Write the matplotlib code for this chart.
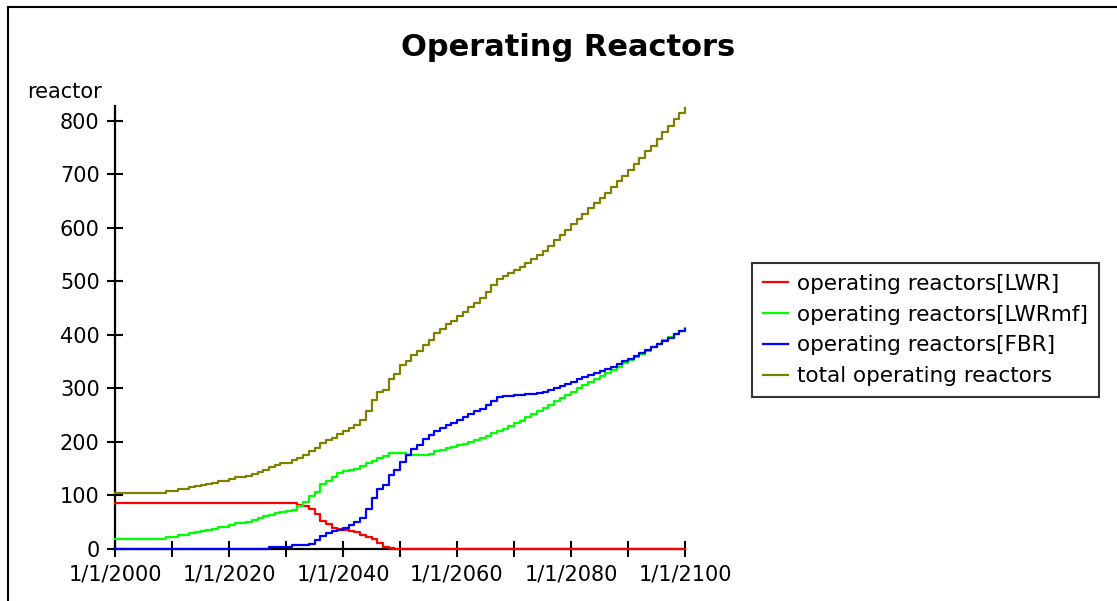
import matplotlib
matplotlib.use("Agg")
import matplotlib.pyplot as plt
from matplotlib.lines import Line2D
import numpy as np

years = list(range(2000, 2101))

lwr = ([86] * 32 +
       [83, 80, 75, 65, 52, 46, 40, 37, 36, 34, 31, 27, 22, 18, 11, 4, 1] +
       [0] * 52)

lwrmf = ([19] * 9 +
         [23, 23, 27, 27, 30, 32, 34, 36, 38, 42,   # 2009-2018
          42, 45, 49, 49, 51, 55, 58, 62, 64, 67,   # 2019-2028
          70, 71, 73, 80, 88, 99, 107, 121, 128, 135,  # 2029-2038
          142, 145, 148, 150, 156, 160, 165, 170, 174, 179,  # 2039-2048
          180, 180, 176, 176, 176, 176, 178, 183, 185, 188,  # 2049-2058
          191, 194, 197, 200, 203, 207, 211, 216, 220, 224,  # 2059-2068
          229, 235, 240, 246, 252, 258, 264, 270, 276, 282,  # 2069-2078
          288, 294, 300, 306, 312, 318, 323, 329, 335, 341,  # 2079-2088
          347, 353, 359, 365, 371, 377, 384, 390, 396, 402,  # 2089-2098
          408, 413])                                         # 2099-2100

fbr = ([0] * 27 +
       [4, 4, 4, 4, 7, 7, 7, 9, 17, 25,            # 2027-2036
        30, 33, 36, 39, 45, 50, 58, 75, 95, 112,   # 2037-2046
        120, 138, 148, 163, 175, 186, 194, 205, 213, 220,  # 2047-2056
        226, 232, 236, 242, 246, 252, 257, 262, 270, 277,  # 2057-2066
        284, 286, 286, 287, 288, 289, 290, 292, 293, 297,  # 2067-2076
        301, 305, 309, 313, 317, 321, 325, 329, 333, 337,  # 2077-2086
        341, 346, 351, 356, 361, 366, 372, 377, 383, 389,  # 2087-2096
        395, 401, 407, 412])                                # 2097-2100

total = [a + b + c for a, b, c in zip(lwr, lwrmf, fbr)]

series_labels = ["operating reactors[LWR]", "operating reactors[LWRmf]",
                 "operating reactors[FBR]", "total operating reactors"]
series_colors = ["#FF0000", "#00FF00", "#0000FF", "#808000"]
y_ticks = [0, 100, 200, 300, 400, 500, 600, 700, 800]
x_ticks = list(range(2000, 2101, 10))
x_ticklabels = ["1/1/%d" % y if (y % 20 == 0) else "" for y in x_ticks]

plt.rcParams['font.family'] = ['DejaVu Sans']
W, H = 1117, 601
fig = plt.figure(figsize=(W / 100, H / 100), dpi=100)
ax = fig.add_axes([115 / W, 1 - 549 / H, (685 - 115) / W, (549 - 106) / H])

for data, lab, col in zip([lwr, lwrmf, fbr, total], series_labels, series_colors):
    ax.plot(years, data, drawstyle='steps-post', color=col, lw=1.6,
            label=lab, zorder=3, clip_on=False)

ax.set_xlim(2000, 2100)
ax.set_ylim(0, 828)
for s in ['top', 'right']:
    ax.spines[s].set_visible(False)
for s in ['left', 'bottom']:
    ax.spines[s].set_linewidth(1.6)
    ax.spines[s].set_zorder(2)
ax.set_yticks(y_ticks)
ax.set_xticks(x_ticks)
ax.set_xticklabels(x_ticklabels)
ax.tick_params(direction='inout', length=12, width=1.5, labelsize=15)
ax.tick_params(axis='y', pad=5)
ax.tick_params(axis='x', pad=5)

fig.text(568 / W, 1 - 47 / H, "Operating Reactors", ha='center', va='center',
         fontsize=22, fontweight='bold')
fig.text(27 / W, 1 - 92 / H, "reactor", ha='left', va='center', fontsize=15)

leg = ax.legend(loc='upper left', bbox_to_anchor=(752 / W, 1 - 263 / H),
                bbox_transform=fig.transFigure, fontsize=15.5, frameon=True,
                fancybox=False, shadow=False, handlelength=1.15, handletextpad=0.45,
                labelspacing=0.5, borderpad=0.5, borderaxespad=0)
leg.get_frame().set_edgecolor('black')
leg.get_frame().set_linewidth(1.5)
for h in leg.get_lines():
    h.set_linewidth(1.6)

fig.add_artist(Line2D([8 / W, 1], [1 - 7 / H, 1 - 7 / H], color='black', lw=1.5,
                      transform=fig.transFigure))
fig.add_artist(Line2D([8 / W, 8 / W], [0, 1 - 7 / H], color='black', lw=1.5,
                      transform=fig.transFigure))

fig.savefig("out.png", dpi=100)
